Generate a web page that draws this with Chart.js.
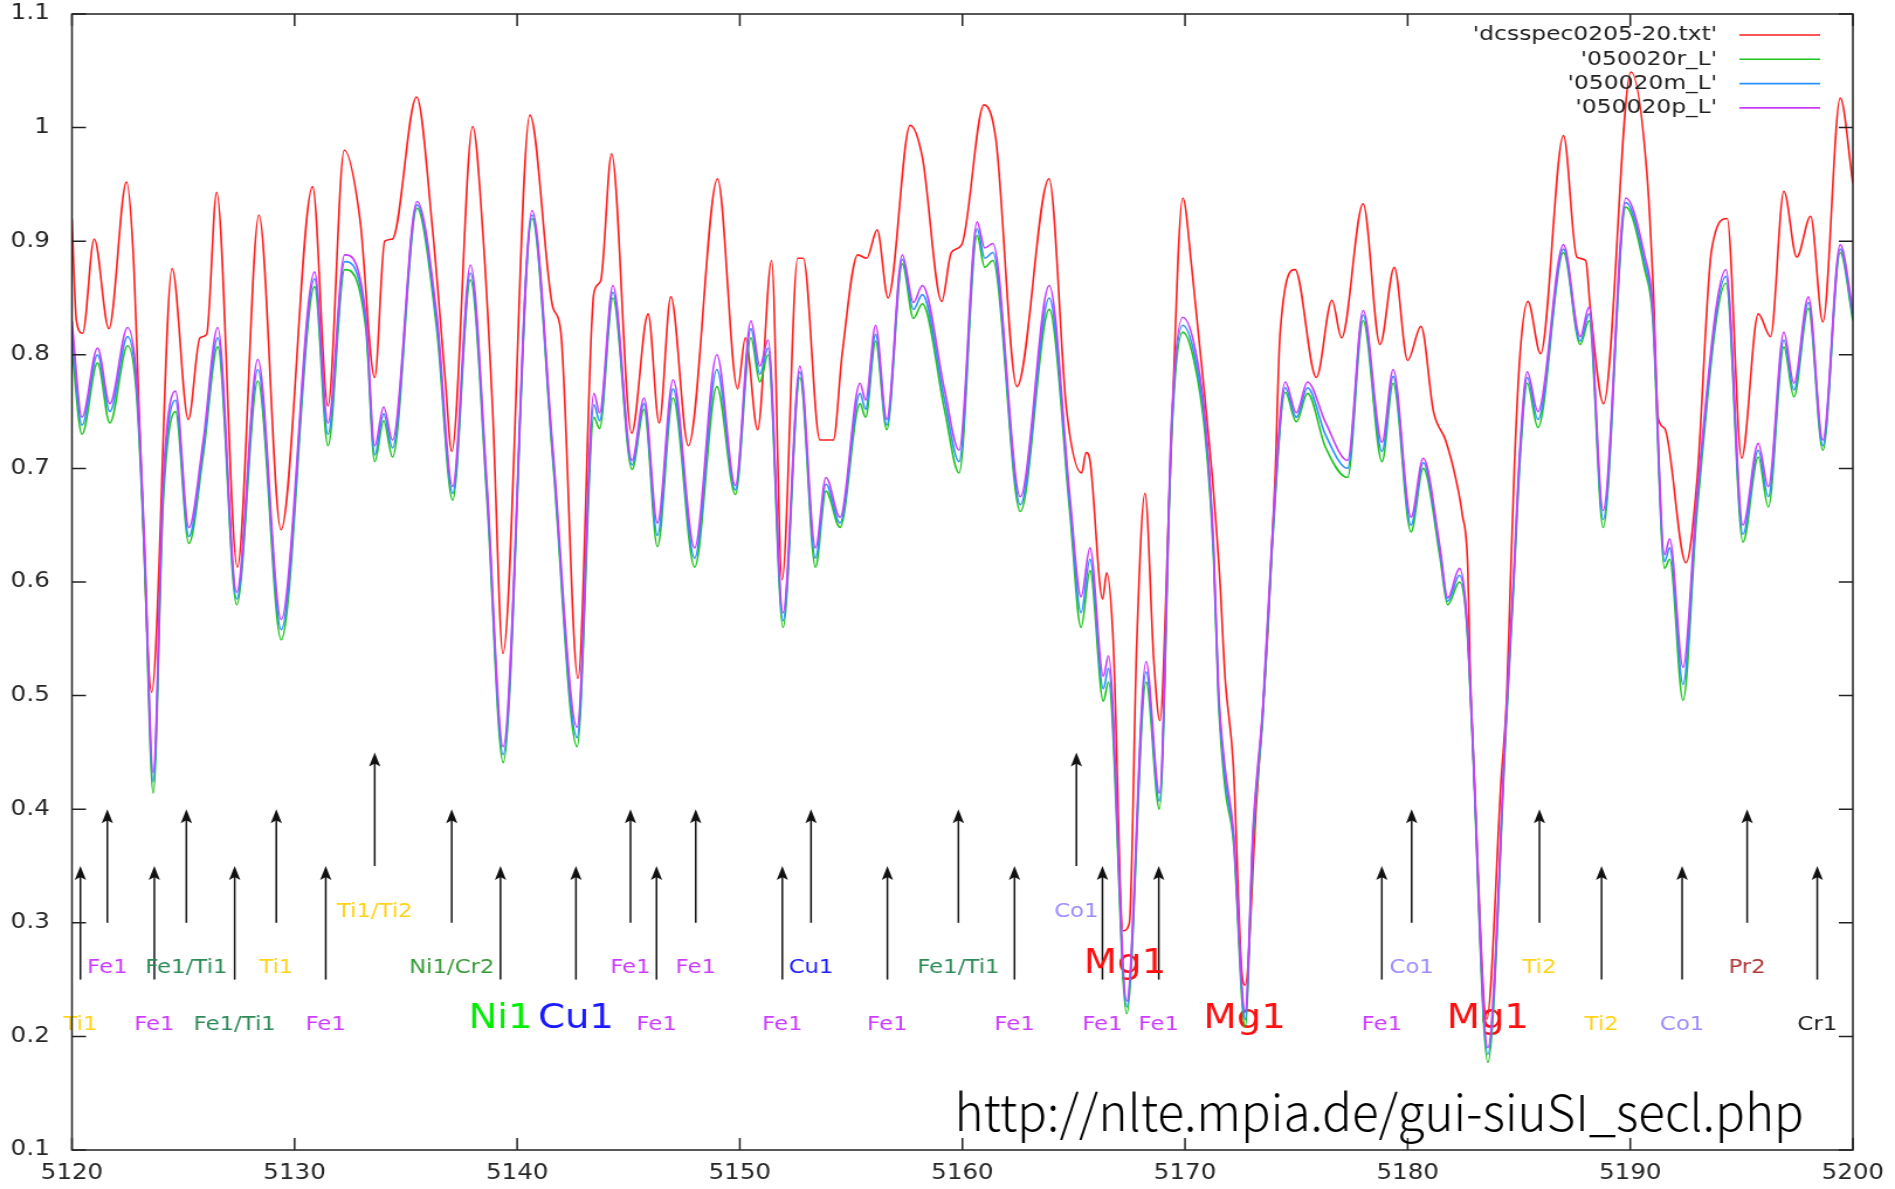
<!DOCTYPE html>
<html>
<head>
<meta charset="utf-8">
<title>dcsspec0205-20 / 050020 5120-5200</title>
<script src="https://cdn.jsdelivr.net/npm/chart.js@4.4.1/dist/chart.umd.min.js"></script>
<style>
	html, body { margin: 0; padding: 0; background: #fff; overflow: hidden; }
	/* plot is laid out narrower and stretched sideways, like the original png */
	#wrap { position: absolute; left: 0; top: 0; width: 1620px; height: 1189px; transform: scaleX(1.16975); transform-origin: 0 0; }
</style>
</head>
<body>
<div id="wrap"><canvas id="spec"></canvas></div>
<script>
const seriesNames = ["'dcsspec0205-20.txt'", "'050020r_L'", "'050020m_L'", "'050020p_L'"];

const xTickValues = [5120, 5130, 5140, 5150, 5160, 5170, 5180, 5190, 5200];
const xTickLabels = ['5120', '5130', '5140', '5150', '5160', '5170', '5180', '5190', '5200'];
const yTickValues = [0.1, 0.2, 0.3, 0.4, 0.5, 0.6, 0.7, 0.8, 0.9, 1.0, 1.1];
const yTickLabels = ['0.1', '0.2', '0.3', '0.4', '0.5', '0.6', '0.7', '0.8', '0.9', '1', '1.1'];

// observed spectrum
const obsWave = [
	5120.00, 5120.20, 5120.48, 5121.00, 5121.66, 5122.45, 5122.75, 5123.05, 5123.58, 5124.50,
	5125.23, 5125.75, 5126.05, 5126.50, 5127.43, 5128.40, 5129.39, 5130.81, 5131.50, 5132.23,
	5132.94, 5133.60, 5134.05, 5134.40, 5135.48, 5136.20, 5136.76, 5137.06, 5138.00, 5138.45,
	5138.90, 5139.36, 5140.57, 5141.60, 5141.95, 5142.73, 5143.45, 5143.75, 5144.24, 5145.14,
	5145.88, 5146.38, 5146.90, 5147.69, 5149.00, 5149.90, 5150.25, 5150.80, 5151.43, 5151.90,
	5152.60, 5152.85, 5153.60, 5154.20, 5154.60, 5155.30, 5155.70, 5156.17, 5156.66, 5157.65,
	5158.20, 5159.07, 5159.50, 5159.97, 5160.97, 5161.50, 5162.45, 5163.89, 5164.68, 5165.36,
	5165.55, 5165.73, 5166.30, 5166.48, 5166.77, 5167.22, 5167.50, 5167.83, 5168.20, 5168.60,
	5168.87, 5169.30, 5169.90, 5170.30, 5170.95, 5171.26, 5171.57, 5171.80, 5172.17, 5172.54,
	5172.70, 5173.20, 5173.74, 5174.04, 5174.27, 5174.94, 5175.90, 5176.60, 5177.03, 5178.00,
	5178.76, 5179.40, 5180.00, 5180.60, 5181.16, 5181.70, 5182.15, 5182.45, 5182.70, 5182.80,
	5183.03, 5183.55, 5184.20, 5184.45, 5184.62, 5184.80, 5185.05, 5185.40, 5185.97, 5187.00,
	5187.60, 5188.00, 5188.20, 5188.80, 5190.03, 5190.75, 5191.05, 5191.25, 5191.55, 5192.50,
	5193.00, 5193.65, 5194.35, 5195.00, 5195.75, 5196.30, 5196.90, 5197.48, 5198.10, 5198.65,
	5199.43, 5200.00
];
const obsFlux = [
	0.920, 0.830, 0.819, 0.902, 0.823, 0.952, 0.890, 0.734, 0.503, 0.876,
	0.743, 0.815, 0.818, 0.943, 0.613, 0.923, 0.646, 0.948, 0.755, 0.980,
	0.919, 0.780, 0.900, 0.902, 1.027, 0.910, 0.780, 0.715, 1.001, 0.910,
	0.750, 0.537, 1.011, 0.842, 0.822, 0.515, 0.855, 0.865, 0.977, 0.731,
	0.836, 0.740, 0.851, 0.720, 0.955, 0.770, 0.815, 0.734, 0.883, 0.602,
	0.885, 0.885, 0.725, 0.725, 0.801, 0.888, 0.885, 0.910, 0.850, 1.002,
	0.974, 0.847, 0.890, 0.897, 1.020, 0.990, 0.772, 0.955, 0.751, 0.696,
	0.714, 0.707, 0.585, 0.608, 0.549, 0.293, 0.300, 0.546, 0.678, 0.530,
	0.478, 0.678, 0.938, 0.877, 0.750, 0.684, 0.600, 0.515, 0.438, 0.260,
	0.245, 0.403, 0.564, 0.689, 0.819, 0.875, 0.780, 0.848, 0.815, 0.933,
	0.809, 0.877, 0.795, 0.825, 0.750, 0.725, 0.692, 0.660, 0.613, 0.529,
	0.410, 0.215, 0.426, 0.499, 0.602, 0.705, 0.801, 0.847, 0.801, 0.993,
	0.886, 0.883, 0.842, 0.757, 1.049, 0.959, 0.850, 0.745, 0.735, 0.617,
	0.690, 0.892, 0.920, 0.709, 0.836, 0.816, 0.944, 0.886, 0.922, 0.829,
	1.026, 0.951
];

// synthetic spectra, same wavelength grid for r / m / p
const modelWave = [
	5120.00, 5120.45, 5121.15, 5121.70, 5122.50, 5122.90, 5123.25, 5123.65, 5124.10, 5124.65,
	5125.25, 5125.90, 5126.55, 5127.40, 5128.35, 5129.40, 5130.90, 5131.50, 5132.25, 5133.20,
	5133.60, 5134.00, 5134.40, 5135.50, 5136.40, 5137.10, 5137.90, 5138.65, 5139.37, 5140.67,
	5141.60, 5142.69, 5143.45, 5143.70, 5144.30, 5145.16, 5145.70, 5146.30, 5147.00, 5147.97,
	5148.97, 5149.80, 5150.50, 5150.90, 5151.27, 5151.94, 5152.70, 5153.40, 5153.87, 5154.50,
	5155.40, 5155.65, 5156.10, 5156.60, 5157.30, 5157.80, 5158.20, 5159.20, 5159.85, 5160.66,
	5161.00, 5161.37, 5162.60, 5163.90, 5164.83, 5165.33, 5165.73, 5166.33, 5166.56, 5167.38,
	5168.25, 5168.85, 5169.40, 5169.90, 5170.40, 5170.90, 5171.28, 5171.50, 5171.80, 5172.17,
	5172.70, 5173.06, 5173.50, 5173.90, 5174.50, 5175.00, 5175.50, 5176.30, 5177.30, 5178.00,
	5178.85, 5179.35, 5180.15, 5180.70, 5181.45, 5181.80, 5182.33, 5182.64, 5182.87, 5183.60,
	5184.43, 5184.75, 5185.05, 5185.37, 5185.85, 5187.00, 5187.75, 5188.15, 5188.78, 5189.80,
	5190.66, 5191.00, 5191.54, 5191.77, 5192.37, 5193.00, 5194.30, 5195.06, 5195.75, 5196.20,
	5196.90, 5197.35, 5198.00, 5198.65, 5199.43, 5200.00
];
const fluxR = [
	0.805, 0.730, 0.793, 0.740, 0.808, 0.765, 0.624, 0.414, 0.670, 0.750,
	0.634, 0.712, 0.807, 0.580, 0.777, 0.549, 0.860, 0.720, 0.875, 0.823,
	0.706, 0.742, 0.710, 0.929, 0.820, 0.672, 0.866, 0.670, 0.441, 0.920,
	0.707, 0.455, 0.745, 0.735, 0.850, 0.699, 0.752, 0.631, 0.762, 0.613,
	0.772, 0.677, 0.815, 0.776, 0.800, 0.560, 0.780, 0.613, 0.680, 0.648,
	0.757, 0.745, 0.812, 0.734, 0.880, 0.832, 0.845, 0.751, 0.696, 0.905,
	0.877, 0.883, 0.662, 0.840, 0.660, 0.560, 0.610, 0.495, 0.512, 0.220,
	0.512, 0.400, 0.730, 0.820, 0.795, 0.730, 0.622, 0.496, 0.418, 0.372,
	0.208, 0.375, 0.482, 0.625, 0.767, 0.741, 0.766, 0.719, 0.692, 0.830,
	0.706, 0.775, 0.644, 0.700, 0.622, 0.580, 0.600, 0.566, 0.478, 0.177,
	0.475, 0.592, 0.708, 0.775, 0.736, 0.890, 0.809, 0.830, 0.648, 0.930,
	0.874, 0.834, 0.612, 0.620, 0.496, 0.662, 0.863, 0.635, 0.710, 0.666,
	0.807, 0.763, 0.841, 0.716, 0.890, 0.830
];
const fluxM = [
	0.818, 0.738, 0.800, 0.750, 0.816, 0.772, 0.632, 0.424, 0.680, 0.760,
	0.640, 0.718, 0.815, 0.585, 0.787, 0.558, 0.867, 0.730, 0.882, 0.829,
	0.712, 0.748, 0.718, 0.932, 0.826, 0.678, 0.872, 0.677, 0.448, 0.923,
	0.712, 0.463, 0.756, 0.742, 0.855, 0.703, 0.757, 0.641, 0.770, 0.621,
	0.787, 0.681, 0.823, 0.783, 0.806, 0.566, 0.785, 0.621, 0.686, 0.652,
	0.766, 0.752, 0.818, 0.738, 0.884, 0.840, 0.853, 0.760, 0.706, 0.911,
	0.885, 0.890, 0.668, 0.850, 0.667, 0.573, 0.620, 0.506, 0.524, 0.226,
	0.521, 0.407, 0.738, 0.826, 0.802, 0.738, 0.628, 0.502, 0.427, 0.377,
	0.215, 0.380, 0.487, 0.630, 0.771, 0.745, 0.771, 0.730, 0.700, 0.835,
	0.715, 0.781, 0.650, 0.705, 0.627, 0.583, 0.606, 0.570, 0.482, 0.184,
	0.480, 0.597, 0.714, 0.780, 0.743, 0.893, 0.812, 0.836, 0.655, 0.934,
	0.880, 0.840, 0.618, 0.630, 0.510, 0.670, 0.869, 0.642, 0.716, 0.675,
	0.813, 0.769, 0.846, 0.720, 0.893, 0.834
];
const fluxP = [
	0.830, 0.745, 0.806, 0.757, 0.824, 0.780, 0.640, 0.432, 0.690, 0.768,
	0.648, 0.725, 0.824, 0.591, 0.796, 0.567, 0.873, 0.740, 0.888, 0.835,
	0.720, 0.754, 0.725, 0.935, 0.833, 0.684, 0.879, 0.684, 0.455, 0.927,
	0.718, 0.472, 0.766, 0.749, 0.861, 0.707, 0.762, 0.652, 0.778, 0.630,
	0.800, 0.685, 0.830, 0.790, 0.813, 0.573, 0.790, 0.630, 0.692, 0.657,
	0.775, 0.760, 0.826, 0.743, 0.888, 0.846, 0.861, 0.769, 0.716, 0.917,
	0.894, 0.898, 0.675, 0.861, 0.675, 0.587, 0.630, 0.517, 0.535, 0.231,
	0.530, 0.414, 0.745, 0.833, 0.810, 0.745, 0.634, 0.508, 0.436, 0.382,
	0.222, 0.385, 0.492, 0.635, 0.776, 0.749, 0.776, 0.741, 0.707, 0.839,
	0.723, 0.787, 0.657, 0.709, 0.631, 0.586, 0.612, 0.573, 0.485, 0.190,
	0.485, 0.602, 0.720, 0.785, 0.750, 0.897, 0.816, 0.842, 0.663, 0.938,
	0.886, 0.846, 0.624, 0.638, 0.525, 0.678, 0.875, 0.650, 0.722, 0.684,
	0.820, 0.775, 0.851, 0.725, 0.897, 0.839
];

// line identifications: arrows come in three lengths
const shortArrowWaves = [5120.38, 5123.70, 5127.31, 5131.40, 5139.25, 5142.64, 5146.26, 5151.91,
	5156.63, 5162.34, 5166.29, 5168.82, 5178.84, 5188.71, 5192.33, 5198.40];
const shortArrowLabels = ['Ti1', 'Fe1', 'Fe1/Ti1', 'Fe1', '', '', 'Fe1', 'Fe1',
	'Fe1', 'Fe1', 'Fe1', 'Fe1', 'Fe1', 'Ti2', 'Co1', 'Cr1'];
const longArrowWaves = [5121.59, 5125.14, 5129.18, 5137.06, 5145.09, 5148.02, 5153.20, 5159.82,
	5180.18, 5185.92, 5195.25];
const longArrowLabels = ['Fe1', 'Fe1/Ti1', 'Ti1', 'Ni1/Cr2', 'Fe1', 'Fe1', 'Cu1', 'Fe1/Ti1',
	'Co1', 'Ti2', 'Pr2'];
const tallArrowWaves = [5133.60, 5165.12];
const tallArrowLabels = ['Ti1/Ti2', 'Co1'];

// strong lines, big labels without arrows
const strongUpperWaves = [5167.30];
const strongUpperLabels = ['Mg1'];
const strongLowerWaves = [5139.25, 5142.64, 5172.68, 5183.60];
const strongLowerLabels = ['Ni1', 'Cu1', 'Mg1', 'Mg1'];

const sourceUrl = 'http://nlte.mpia.de/gui-siuSI_secl.php';

const seriesColors = ['#ff1c1c', '#1cc41c', '#2b93ff', '#c93cff'];
const elementColors = {
	'Fe1': '#cc3cff',
	'Fe1/Ti1': '#2e8b57',
	'Ti1': '#ffd21a',
	'Ti2': '#ffd21a',
	'Ti1/Ti2': '#ffd21a',
	'Ni1/Cr2': '#3a9a3a',
	'Ni1': '#00ee00',
	'Cu1': '#1a1aff',
	'Co1': '#9a8cff',
	'Mg1': '#ff1010',
	'Pr2': '#b03838',
	'Cr1': '#1a1a1a'
};

const FONT = '"DejaVu Sans", "Liberation Sans", sans-serif';

function toPoints(waves, flux) {
	return waves.map((w, i) => ({ x: w, y: flux[i] }));
}

// arrows + element names, behind the spectra
const lineIds = {
	id: 'lineIds',
	beforeDatasetsDraw(chart) {
		const { ctx, scales: { x, y } } = chart;
		ctx.save();
		ctx.strokeStyle = '#111';
		ctx.fillStyle = '#111';
		ctx.lineWidth = 1.5;

		const arrow = (w, from, to) => {
			const px = x.getPixelForValue(w);
			const yFrom = y.getPixelForValue(from);
			const yTo = y.getPixelForValue(to);
			ctx.beginPath();
			ctx.moveTo(px, yFrom);
			ctx.lineTo(px, yTo + 10);
			ctx.stroke();
			ctx.beginPath();
			ctx.moveTo(px, yTo);
			ctx.lineTo(px - 4.8, yTo + 14);
			ctx.lineTo(px, yTo + 11);
			ctx.lineTo(px + 4.8, yTo + 14);
			ctx.closePath();
			ctx.fill();
		};
		shortArrowWaves.forEach(w => arrow(w, 0.25, 0.35));
		longArrowWaves.forEach(w => arrow(w, 0.30, 0.40));
		tallArrowWaves.forEach(w => arrow(w, 0.35, 0.45));

		ctx.textAlign = 'center';
		ctx.textBaseline = 'middle';
		const label = (w, text, level, size) => {
			if (!text) return;
			ctx.font = size + 'px ' + FONT;
			ctx.fillStyle = elementColors[text] || '#111';
			ctx.fillText(text, x.getPixelForValue(w), y.getPixelForValue(level));
		};
		shortArrowWaves.forEach((w, i) => label(w, shortArrowLabels[i], 0.210, 19.5));
		longArrowWaves.forEach((w, i) => label(w, longArrowLabels[i], 0.260, 19.5));
		tallArrowWaves.forEach((w, i) => label(w, tallArrowLabels[i], 0.310, 19.5));
		strongUpperWaves.forEach((w, i) => label(w, strongUpperLabels[i], 0.263, 33));
		strongLowerWaves.forEach((w, i) => label(w, strongLowerLabels[i], 0.215, 33));
		ctx.restore();
	}
};

// gnuplot style border with inward ticks on all four sides
const frame = {
	id: 'frame',
	afterDatasetsDraw(chart) {
		const { ctx, chartArea: a, scales: { x, y } } = chart;
		ctx.save();
		ctx.strokeStyle = '#222';
		ctx.lineWidth = 1.5;
		ctx.strokeRect(a.left, a.top, a.right - a.left, a.bottom - a.top);
		ctx.beginPath();
		xTickValues.forEach(v => {
			const px = x.getPixelForValue(v);
			ctx.moveTo(px, a.bottom); ctx.lineTo(px, a.bottom - 12);
			ctx.moveTo(px, a.top); ctx.lineTo(px, a.top + 12);
		});
		yTickValues.forEach(v => {
			const py = y.getPixelForValue(v);
			ctx.moveTo(a.left, py); ctx.lineTo(a.left + 12, py);
			ctx.moveTo(a.right, py); ctx.lineTo(a.right - 12, py);
		});
		ctx.stroke();
		ctx.restore();
	}
};

// key in the top right corner: right aligned name, then a line sample
const key = {
	id: 'key',
	afterDraw(chart) {
		const { ctx } = chart;
		ctx.save();
		ctx.font = '20px ' + FONT;
		ctx.textAlign = 'right';
		ctx.textBaseline = 'middle';
		chart.data.datasets.forEach((ds, i) => {
			const rowY = 35 + i * 24.3;
			ctx.fillStyle = '#222';
			ctx.fillText(ds.label, 1468, rowY);
			ctx.strokeStyle = ds.borderColor;
			ctx.lineWidth = 1.6;
			ctx.beginPath();
			ctx.moveTo(1487, rowY);
			ctx.lineTo(1556, rowY);
			ctx.stroke();
		});

		// source url, set in a narrow gothic face
		ctx.font = '300 50px "Noto Sans CJK JP", "Noto Sans", sans-serif';
		ctx.textAlign = 'left';
		ctx.textBaseline = 'alphabetic';
		ctx.fillStyle = '#000';
		const w = ctx.measureText(sourceUrl).width;
		ctx.translate(816, 1131);
		ctx.scale(726 / w, 1);
		ctx.fillText(sourceUrl, 0, 0);
		ctx.restore();
	}
};

const lineStyle = {
	pointRadius: 0,
	borderWidth: 1.6,
	fill: false,
	cubicInterpolationMode: 'monotone'
};

const ctx = document.getElementById('spec').getContext('2d');

// label offsets go through grid.tickLength (grid itself hidden) so that
// ticks.padding stays 0 and does not push the plot box down
const chartSpectrum = new Chart(ctx, {
	type: 'line',
	data: {
		datasets: [
			{ ...lineStyle, label: seriesNames[0], data: toPoints(obsWave, obsFlux), borderColor: seriesColors[0], order: 4 },
			{ ...lineStyle, label: seriesNames[1], data: toPoints(modelWave, fluxR), borderColor: seriesColors[1], order: 3 },
			{ ...lineStyle, label: seriesNames[2], data: toPoints(modelWave, fluxM), borderColor: seriesColors[2], order: 2 },
			{ ...lineStyle, label: seriesNames[3], data: toPoints(modelWave, fluxP), borderColor: seriesColors[3], order: 1 }
		]
	},
	options: {
		responsive: true,
		maintainAspectRatio: false,
		animation: false,
		events: [],
		layout: {
			padding: { left: 0, right: 36, top: 14, bottom: 0 }
		},
		scales: {
			x: {
				type: 'linear',
				min: 5120,
				max: 5200,
				afterBuildTicks: scale => { scale.ticks = xTickValues.map(v => ({ value: v })); },
				afterFit: scale => { scale.height = 39; },
				grid: { display: false, drawTicks: true, tickLength: 11 },
				border: { display: false },
				ticks: {
					autoSkip: false,
					maxRotation: 0,
					padding: 0,
					color: '#262626',
					font: { family: FONT, size: 21 },
					callback: (value, index) => xTickLabels[index]
				}
			},
			y: {
				type: 'linear',
				min: 0.1,
				max: 1.1,
				afterBuildTicks: scale => { scale.ticks = yTickValues.map(v => ({ value: v })); },
				afterFit: scale => { scale.width = 61.5; },
				grid: { display: false, drawTicks: true, tickLength: 19 },
				border: { display: false },
				ticks: {
					autoSkip: false,
					padding: 0,
					color: '#262626',
					font: { family: FONT, size: 21 },
					callback: (value, index) => yTickLabels[index]
				}
			}
		},
		plugins: {
			legend: { display: false },
			tooltip: { enabled: false },
			title: { display: false }
		}
	},
	plugins: [lineIds, frame, key]
});
</script>
</body>
</html>
